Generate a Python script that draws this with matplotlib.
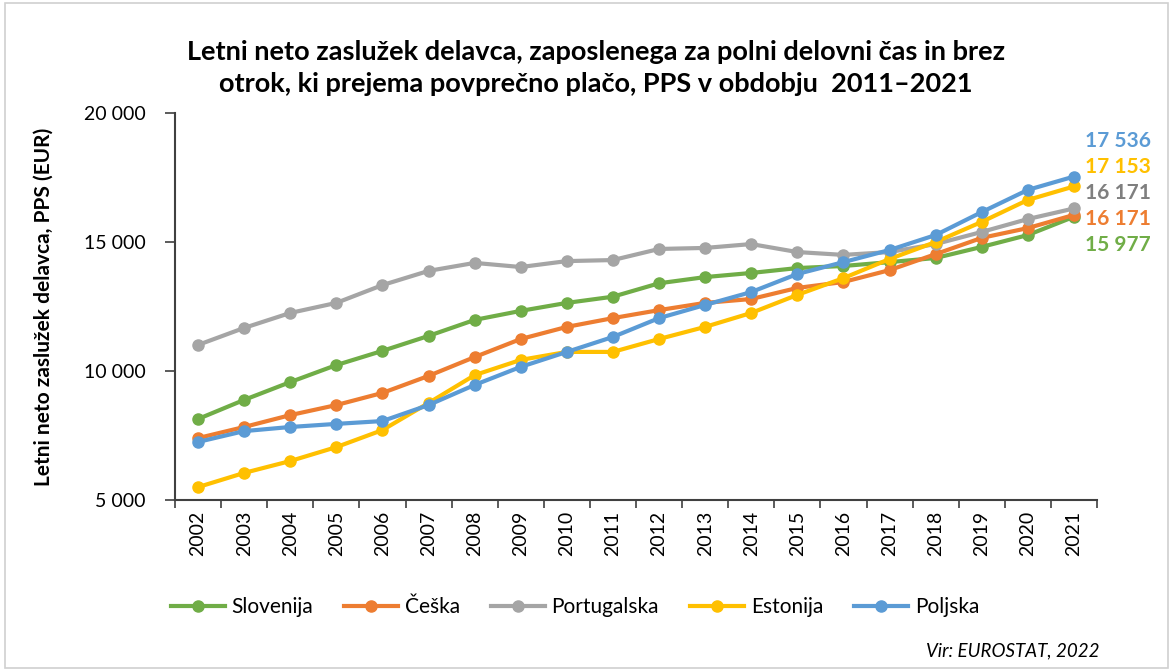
import matplotlib.pyplot as plt
from matplotlib.patches import Rectangle

plt.rcParams['font.family'] = ['Lato', 'DejaVu Sans']

years = [str(y) for y in range(2002, 2022)]

slovenija = [8140, 8880, 9570, 10230, 10780, 11360, 11980, 12330, 12640, 12880,
             13400, 13640, 13800, 13990, 14070, 14220, 14380, 14810, 15270, 15977]
ceska = [7400, 7830, 8290, 8680, 9150, 9810, 10540, 11240, 11710, 12050,
         12360, 12640, 12790, 13220, 13450, 13910, 14530, 15160, 15540, 16050]
portugalska = [11010, 11670, 12250, 12640, 13330, 13880, 14190, 14030, 14260, 14300,
               14730, 14770, 14920, 14610, 14500, 14610, 14920, 15390, 15890, 16300]
estonija = [5500, 6050, 6510, 7050, 7710, 8760, 9840, 10430, 10740, 10740,
            11240, 11710, 12250, 12950, 13600, 14340, 15000, 15780, 16630, 17153]
poljska = [7250, 7670, 7830, 7950, 8060, 8680, 9460, 10160, 10740, 11320,
           12050, 12560, 13060, 13760, 14220, 14690, 15270, 16160, 17020, 17536]

series = [
    ('Slovenija', slovenija, '#70AD47'),
    ('Češka', ceska, '#ED7D31'),
    ('Portugalska', portugalska, '#A5A5A5'),
    ('Estonija', estonija, '#FFC000'),
    ('Poljska', poljska, '#5B9BD5'),
]

# labels at the right end: text, colour
end_labels = [
    ('17 536', '#5B9BD5'),
    ('17 153', '#FFC000'),
    ('16 171', '#7F7F7F'),
    ('16 171', '#ED7D31'),
    ('15 977', '#70AD47'),
]

fig = plt.figure(figsize=(11.73, 6.71), dpi=100)
ax = fig.add_axes([175 / 1173, 1 - 500 / 671, 922 / 1173, 387 / 671])

x = list(range(len(years)))
for name, vals, col in series:
    ax.plot(x, vals, color=col, lw=3, marker='o', ms=8, label=name)

ax.set_xlim(-0.5, len(years) - 0.5)
ax.set_ylim(5000, 20000)
ax.set_yticks([5000, 10000, 15000, 20000])
ax.set_yticklabels(['5 000', '10 000', '15 000', '20 000'], fontsize=14)
ax.set_xticks(x)
ax.set_xticklabels(years, rotation=90, fontsize=14)
ax.set_xticks([i - 0.5 for i in range(len(years) + 1)], minor=True)
ax.tick_params(axis='x', which='major', length=0, pad=8)
ax.tick_params(axis='x', which='minor', length=6, width=1.2, color='#404040')
ax.tick_params(axis='y', length=7, width=1.2, color='#404040', pad=14)

for s in ['top', 'right']:
    ax.spines[s].set_visible(False)
for s in ['left', 'bottom']:
    ax.spines[s].set_color('#404040')
    ax.spines[s].set_linewidth(1.5)

ax.set_ylabel('Letni neto zaslužek delavca, PPS (EUR)', fontsize=15,
              fontweight='bold', labelpad=22)

fig.text(0.508, 1 - 68 / 671,
         'Letni neto zaslužek delavca, zaposlenega za polni delovni čas in brez\n'
         'otrok, ki prejema povprečno plačo, PPS v obdobju  2011\u20132021',
         ha='center', va='center', fontsize=19.5, fontweight='bold',
         linespacing=1.4)

for i, (txt, col) in enumerate(end_labels):
    fig.text(1085 / 1173, 1 - (141 + i * 26) / 671, txt, color=col,
             fontsize=15, fontweight='bold', va='center', ha='left')

fig.legend(loc='center', bbox_to_anchor=(575 / 1173, 1 - 607 / 671),
           ncol=5, frameon=False, fontsize=15, handlelength=2.6,
           columnspacing=1.5, handletextpad=0.3)

fig.text(1100 / 1173, 1 - 651 / 671, 'Vir: EUROSTAT, 2022', ha='right',
         va='center', fontsize=13.5, style='italic')

fig.patches.append(Rectangle((0.004, 0.004), 0.992, 0.992, transform=fig.transFigure,
                             fill=False, edgecolor='#D0D0D0', lw=1.2))

plt.savefig('out.png', dpi=100)
